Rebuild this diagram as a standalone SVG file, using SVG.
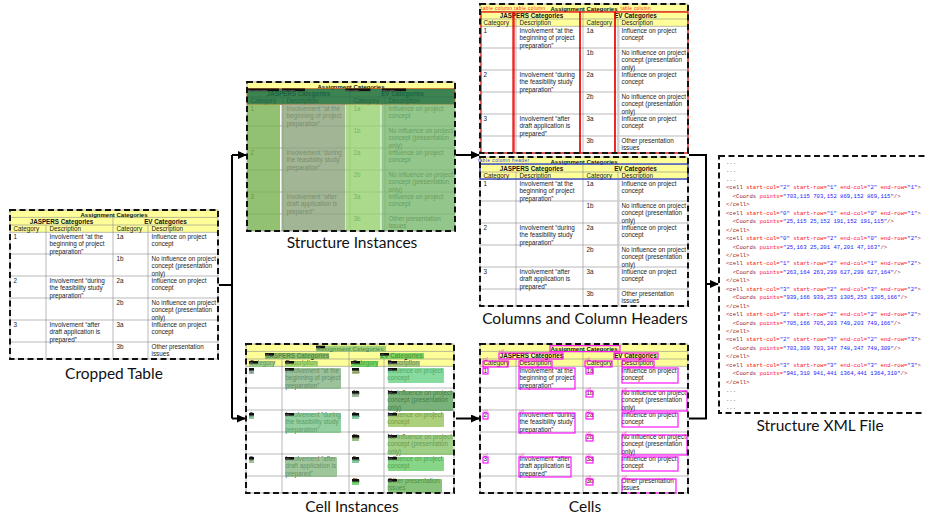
<svg xmlns="http://www.w3.org/2000/svg" xmlns:xlink="http://www.w3.org/1999/xlink" width="925" height="521" viewBox="0 0 925 521">
<style>
.dash{fill:none;stroke:#111;stroke-width:2;stroke-dasharray:6 3.5}
.gl{stroke:#8a8a8a;stroke-width:0.6}
.t{font-family:"Liberation Sans",Arial,sans-serif;font-size:6.3px;fill:#222}
.th{font-family:"Liberation Sans",Arial,sans-serif;font-weight:bold;fill:#111;text-anchor:middle}
.lbl{font-family:Lato,"Open Sans",sans-serif;font-size:15.5px;fill:#111;text-anchor:middle}
.xml{font-family:"Liberation Mono","DejaVu Sans Mono",monospace;font-size:5.6px}
.tg{fill:#a31515}.an{fill:#ff1010}.av{fill:#1a1aff}.pl{fill:#555}
.con{stroke:#000;stroke-width:2;fill:none}
.ci{opacity:0.75}
.cl{fill:#111}
.clt{font-family:"Liberation Sans",Arial,sans-serif;font-size:2.2px;fill:#aaa}
.mb{fill:none;stroke:#ff00ff;stroke-width:1.1}
.mt{font-family:"Liberation Sans",Arial,sans-serif;font-size:3.4px;fill:#ff3fd0}
.rc{fill:none;stroke:#e80000;stroke-width:1.2}
.rt{font-family:"Liberation Sans",Arial,sans-serif;font-size:4.6px;fill:#ff2020}
</style>
<defs>
<marker id="ah" markerUnits="userSpaceOnUse" markerWidth="9" markerHeight="8" refX="8" refY="4" orient="auto"><path d="M0,0 L9,4 L0,8 z" fill="#000"/></marker>
<g id="tbl">
<rect x="0" y="0" width="208" height="149" fill="#fff"/>
<rect x="0" y="0" width="208" height="22.3" fill="#ffff99"/>
<g class="gl">
<line x1="0" y1="7.4" x2="208" y2="7.4"/><line x1="0" y1="15" x2="208" y2="15"/><line x1="0" y1="22.3" x2="208" y2="22.3"/>
<line x1="0" y1="44" x2="208" y2="44"/><line x1="0" y1="66" x2="208" y2="66"/><line x1="0" y1="88" x2="208" y2="88"/><line x1="0" y1="110" x2="208" y2="110"/><line x1="0" y1="132" x2="208" y2="132"/>
<line x1="103" y1="7.4" x2="103" y2="149"/><line x1="36" y1="15" x2="36" y2="149"/><line x1="138" y1="15" x2="138" y2="149"/>
<rect x="0" y="0" width="208" height="149" fill="none"/>
</g>
<text class="th" x="104" y="6.6" font-size="6">Assignment Categories</text>
<text class="th" x="51.5" y="13.5" font-size="6.3">JASPERS Categories</text>
<text class="th" x="155.5" y="13.5" font-size="6.3">EV Categories</text>
<g class="t">
<text x="3.5" y="21">Category</text><text x="39.5" y="21">Description</text><text x="106.5" y="21">Category</text><text x="141.5" y="21">Description</text>
<text x="3.5" y="28.7">1</text>
<text x="39.5" y="28.7">Involvement “at the<tspan x="39.5" dy="7.5">beginning of project</tspan><tspan x="39.5" dy="7.5">preparation”</tspan></text>
<text x="106.5" y="28.7">1a</text>
<text x="141.5" y="28.7">Influence on project<tspan x="141.5" dy="7.5">concept</tspan></text>
<text x="106.5" y="50.7">1b</text>
<text x="141.5" y="50.7">No influence on project<tspan x="141.5" dy="7.5">concept (presentation</tspan><tspan x="141.5" dy="7.5">only)</tspan></text>
<text x="3.5" y="72.7">2</text>
<text x="39.5" y="72.7">Involvement “during<tspan x="39.5" dy="7.5">the feasibility study</tspan><tspan x="39.5" dy="7.5">preparation”</tspan></text>
<text x="106.5" y="72.7">2a</text>
<text x="141.5" y="72.7">Influence on project<tspan x="141.5" dy="7.5">concept</tspan></text>
<text x="106.5" y="94.7">2b</text>
<text x="141.5" y="94.7">No influence on project<tspan x="141.5" dy="7.5">concept (presentation</tspan><tspan x="141.5" dy="7.5">only)</tspan></text>
<text x="3.5" y="116.7">3</text>
<text x="39.5" y="116.7">Involvement “after<tspan x="39.5" dy="7.5">draft application is</tspan><tspan x="39.5" dy="7.5">prepared”</tspan></text>
<text x="106.5" y="116.7">3a</text>
<text x="141.5" y="116.7">Influence on project<tspan x="141.5" dy="7.5">concept</tspan></text>
<text x="106.5" y="138.7">3b</text>
<text x="141.5" y="138.7">Other presentation<tspan x="141.5" dy="7.5">issues</tspan></text>
</g>
</g>
</defs>
<rect width="925" height="521" fill="#fff"/>

<g id="cropped-table" transform="translate(10,210)">
<use href="#tbl"/>
<rect class="dash" x="0" y="0" width="208" height="149"/>
</g>
<text class="lbl" x="114" y="379">Cropped Table</text>

<g id="structure-instances" transform="translate(247,82)">
<use href="#tbl"/>
<rect x="0" y="6.5" width="208" height="15.8" fill="#1e6e46" opacity="0.86" stroke="#d2601e" stroke-width="0.8"/>
<g opacity="0.8">
<rect x="0" y="22.3" width="33" height="126.7" fill="#78b250"/>
<rect x="34.5" y="22.3" width="63.5" height="126.7" fill="#8ca57d"/>
<rect x="98.5" y="22.3" width="35" height="126.7" fill="#96d26e"/>
<rect x="134.5" y="22.3" width="73.5" height="126.7" fill="#78b96e"/>
</g>
<g>
<rect x="0" y="6.5" width="32" height="2.6" class="cl"/><text class="clt" x="0.5" y="8.6">table column header</text>
<rect x="35" y="6.5" width="23" height="2.6" class="cl"/><text class="clt" x="35.5" y="8.6">table column</text>
<rect x="98.5" y="6.5" width="25" height="2.6" class="cl"/><text class="clt" x="99" y="8.6">table column</text>
<rect x="135" y="6.5" width="24" height="2.6" class="cl"/><text class="clt" x="135.5" y="8.6">table column</text>
</g>
<rect class="dash" x="0" y="0" width="208" height="149"/>
</g>
<text class="lbl" x="352" y="248">Structure Instances</text>

<g id="table-columns" transform="translate(480,4)">
<use href="#tbl"/>
<rect x="137.5" y="22.3" width="2" height="126.7" fill="#cfcfcf"/>
<rect class="rc" x="1" y="8" width="32" height="141"/>
<rect class="rc" x="34" y="8" width="66" height="141"/>
<rect class="rc" x="100" y="8" width="35" height="141"/>
<rect class="rc" x="135" y="8" width="73" height="141"/>
<text class="rt" x="1" y="6.3" textLength="31">table column</text>
<text class="rt" x="34" y="6.3" textLength="31">table column</text>
<text class="rt" x="140.5" y="6.3" textLength="30">table column</text>
<rect class="dash" x="0" y="0" width="208" height="149"/>
</g>

<g id="column-headers" transform="translate(480,157)">
<use href="#tbl"/>
<rect x="137.5" y="22.3" width="2" height="126.7" fill="#cfcfcf"/>
<rect x="0" y="7" width="208" height="15" fill="none" stroke="#3344cc" stroke-width="1.3"/>
<text x="-2" y="5.4" font-family="Liberation Sans, Arial, sans-serif" font-size="4.6" fill="#2a3be0" textLength="51">table column header</text>
<rect class="dash" x="0" y="0" width="208" height="149"/>
</g>
<text class="lbl" x="585" y="324">Columns and Column Headers</text>

<g id="cell-instances" transform="translate(246,344)">
<use href="#tbl"/>
<g class="ci">
<rect x="70" y="1.7" width="70" height="6" fill="#7fc06a"/>
<rect x="19" y="9" width="64" height="6" fill="#6fae5a"/>
<rect x="134" y="9" width="44" height="6" fill="#5cc84c"/>
<rect x="3" y="17" width="25" height="6" fill="#7fbf7f"/>
<rect x="39" y="17" width="33" height="6" fill="#8fd060"/>
<rect x="105" y="17" width="27" height="6" fill="#4fc84f"/>
<rect x="142" y="17" width="32" height="6" fill="#8fb86a"/>
<rect x="3" y="24" width="5" height="6" fill="#7a9f9a"/>
<rect x="39" y="24" width="56" height="21" rx="1" fill="#7aae7a"/>
<rect x="106" y="24" width="7" height="6" fill="#8fa860"/>
<rect x="142" y="24" width="56" height="15" rx="1" fill="#5fcf7f"/>
<rect x="106" y="47" width="7" height="6" fill="#7f9f7f"/>
<rect x="142" y="47" width="65" height="20" rx="1" fill="#4f994f"/>
<rect x="3" y="69" width="5" height="6" fill="#60b870"/>
<rect x="39" y="69" width="56" height="20" rx="1" fill="#6fc07f"/>
<rect x="106" y="69" width="7" height="6" fill="#5fb890"/>
<rect x="142" y="69" width="56" height="14" rx="1" fill="#8fc04f"/>
<rect x="106" y="91" width="7" height="6" fill="#7fa860"/>
<rect x="142" y="91" width="65" height="20" rx="1" fill="#7fbf5f"/>
<rect x="3" y="113" width="5" height="6" fill="#7fb070"/>
<rect x="39" y="113" width="52" height="20" rx="1" fill="#7fb47a"/>
<rect x="106" y="113" width="7" height="6" fill="#5fb87f"/>
<rect x="142" y="113" width="56" height="14" rx="1" fill="#5fc860"/>
<rect x="106" y="135" width="7" height="6" fill="#4fc84f"/>
<rect x="142" y="135" width="54" height="14" rx="1" fill="#5fb04f"/>
</g>
<g>
<rect class="cl" x="70" y="1.7" width="9" height="2.6"/><text class="clt" x="70.5" y="3.8">cell</text>
<rect class="cl" x="19" y="9" width="9" height="2.6"/><text class="clt" x="19.5" y="11.1">cell</text>
<rect class="cl" x="134" y="9" width="9" height="2.6"/><text class="clt" x="134.5" y="11.1">cell</text>
<rect class="cl" x="3" y="17" width="9" height="2.6"/><text class="clt" x="3.5" y="19.1">cell</text>
<rect class="cl" x="39" y="17" width="9" height="2.6"/><text class="clt" x="39.5" y="19.1">cell</text>
<rect class="cl" x="105" y="17" width="9" height="2.6"/><text class="clt" x="105.5" y="19.1">cell</text>
<rect class="cl" x="142" y="17" width="9" height="2.6"/><text class="clt" x="142.5" y="19.1">cell</text>
<rect class="cl" x="3" y="24" width="5" height="2.6"/>
<rect class="cl" x="39" y="24" width="9" height="2.6"/><text class="clt" x="39.5" y="26.1">cell</text>
<rect class="cl" x="106" y="24" width="7" height="2.6"/>
<rect class="cl" x="142" y="24" width="9" height="2.6"/><text class="clt" x="142.5" y="26.1">cell</text>
<rect class="cl" x="106" y="47" width="7" height="2.6"/>
<rect class="cl" x="142" y="47" width="9" height="2.6"/><text class="clt" x="142.5" y="49.1">cell</text>
<rect class="cl" x="3" y="69" width="5" height="2.6"/>
<rect class="cl" x="39" y="69" width="9" height="2.6"/><text class="clt" x="39.5" y="71.1">cell</text>
<rect class="cl" x="106" y="69" width="7" height="2.6"/>
<rect class="cl" x="142" y="69" width="9" height="2.6"/><text class="clt" x="142.5" y="71.1">cell</text>
<rect class="cl" x="106" y="91" width="7" height="2.6"/>
<rect class="cl" x="142" y="91" width="9" height="2.6"/><text class="clt" x="142.5" y="93.1">cell</text>
<rect class="cl" x="3" y="113" width="5" height="2.6"/>
<rect class="cl" x="39" y="113" width="9" height="2.6"/><text class="clt" x="39.5" y="115.1">cell</text>
<rect class="cl" x="106" y="113" width="7" height="2.6"/>
<rect class="cl" x="142" y="113" width="9" height="2.6"/><text class="clt" x="142.5" y="115.1">cell</text>
<rect class="cl" x="106" y="135" width="7" height="2.6"/>
<rect class="cl" x="142" y="135" width="9" height="2.6"/><text class="clt" x="142.5" y="137.1">cell</text>
</g>
<rect class="dash" x="0" y="0" width="208" height="149"/>
</g>
<text class="lbl" x="352" y="512">Cell Instances</text>

<g id="cells" transform="translate(480,344)">
<use href="#tbl"/>
<rect x="137.5" y="22.3" width="2" height="126.7" fill="#cfcfcf"/>
<g>
<rect class="mb" x="70" y="1.7" width="70" height="6"/>
<rect class="mb" x="19" y="9" width="64" height="6"/>
<rect class="mb" x="134" y="9" width="44" height="6"/>
<rect class="mb" x="3" y="17" width="25" height="6"/>
<rect class="mb" x="39" y="17" width="33" height="6"/>
<rect class="mb" x="105" y="17" width="27" height="6"/>
<rect class="mb" x="142" y="17" width="32" height="6"/>
<rect class="mb" x="3" y="24" width="5" height="6"/>
<rect class="mb" x="39" y="24" width="56" height="21"/>
<rect class="mb" x="106" y="24" width="7" height="6"/>
<rect class="mb" x="142" y="24" width="56" height="15"/>
<rect class="mb" x="106" y="47" width="7" height="6"/>
<rect class="mb" x="142" y="47" width="65" height="20"/>
<rect class="mb" x="3" y="69" width="5" height="6"/>
<rect class="mb" x="39" y="69" width="56" height="20"/>
<rect class="mb" x="106" y="69" width="7" height="6"/>
<rect class="mb" x="142" y="69" width="56" height="14"/>
<rect class="mb" x="106" y="91" width="7" height="6"/>
<rect class="mb" x="142" y="91" width="65" height="20"/>
<rect class="mb" x="3" y="113" width="5" height="6"/>
<rect class="mb" x="39" y="113" width="52" height="20"/>
<rect class="mb" x="106" y="113" width="7" height="6"/>
<rect class="mb" x="142" y="113" width="56" height="14"/>
<rect class="mb" x="106" y="135" width="7" height="6"/>
<rect class="mb" x="142" y="135" width="54" height="14"/>
</g>
<g class="mt">
<text x="19" y="8.4">cell</text><text x="134" y="8.4">cell</text>
<text x="3" y="16.4">cell</text><text x="39" y="16.4">cell</text><text x="105" y="16.4">cell</text><text x="142" y="16.4">cell</text>
<text x="106" y="46.4">cell</text><text x="142" y="46.4">cell</text>
<text x="3" y="68.4">cell</text><text x="39" y="68.4">cell</text><text x="106" y="68.4">cell</text><text x="142" y="68.4">cell</text>
<text x="106" y="90.4">cell</text><text x="142" y="90.4">cell</text>
<text x="3" y="112.4">cell</text><text x="39" y="112.4">cell</text><text x="106" y="112.4">cell</text><text x="142" y="112.4">cell</text>
<text x="106" y="134.4">cell</text><text x="142" y="134.4">cell</text>
</g>
<rect class="dash" x="0" y="0" width="208" height="149"/>
</g>
<text class="lbl" x="585" y="512">Cells</text>

<g id="structure-xml-file">
<rect class="dash" x="719" y="156" width="215" height="257"/>
<g class="xml">
<text class="pl" x="726" y="164">...</text>
<text class="pl" x="726" y="172.45">...</text>
<text class="pl" x="726" y="180.9">...</text>
<text x="726" y="189.35"><tspan class="tg">&lt;cell</tspan> <tspan class="an">start-col=</tspan><tspan class="av">"2"</tspan> <tspan class="an">start-row=</tspan><tspan class="av">"1"</tspan> <tspan class="an">end-col=</tspan><tspan class="av">"2"</tspan> <tspan class="an">end-row=</tspan><tspan class="av">"1"</tspan><tspan class="tg">&gt;</tspan></text>
<text x="732.7" y="197.8"><tspan class="tg">&lt;Coords</tspan> <tspan class="an">points=</tspan><tspan class="av">"703,115 703,152 869,152 869,115"</tspan><tspan class="tg">/&gt;</tspan></text>
<text class="tg" x="726" y="206.25">&lt;/cell&gt;</text>
<text x="726" y="214.7"><tspan class="tg">&lt;cell</tspan> <tspan class="an">start-col=</tspan><tspan class="av">"0"</tspan> <tspan class="an">start-row=</tspan><tspan class="av">"1"</tspan> <tspan class="an">end-col=</tspan><tspan class="av">"0"</tspan> <tspan class="an">end-row=</tspan><tspan class="av">"1"</tspan><tspan class="tg">&gt;</tspan></text>
<text x="732.7" y="223.15"><tspan class="tg">&lt;Coords</tspan> <tspan class="an">points=</tspan><tspan class="av">"25,115 25,152 191,152 191,115"</tspan><tspan class="tg">/&gt;</tspan></text>
<text class="tg" x="726" y="231.6">&lt;/cell&gt;</text>
<text x="726" y="240.05"><tspan class="tg">&lt;cell</tspan> <tspan class="an">start-col=</tspan><tspan class="av">"0"</tspan> <tspan class="an">start-row=</tspan><tspan class="av">"2"</tspan> <tspan class="an">end-col=</tspan><tspan class="av">"0"</tspan> <tspan class="an">end-row=</tspan><tspan class="av">"2"</tspan><tspan class="tg">&gt;</tspan></text>
<text x="732.7" y="248.5"><tspan class="tg">&lt;Coords</tspan> <tspan class="an">points=</tspan><tspan class="av">"25,163 25,201 47,201 47,163"</tspan><tspan class="tg">/&gt;</tspan></text>
<text class="tg" x="726" y="256.95">&lt;/cell&gt;</text>
<text x="726" y="265.4"><tspan class="tg">&lt;cell</tspan> <tspan class="an">start-col=</tspan><tspan class="av">"1"</tspan> <tspan class="an">start-row=</tspan><tspan class="av">"2"</tspan> <tspan class="an">end-col=</tspan><tspan class="av">"1"</tspan> <tspan class="an">end-row=</tspan><tspan class="av">"2"</tspan><tspan class="tg">&gt;</tspan></text>
<text x="732.7" y="273.85"><tspan class="tg">&lt;Coords</tspan> <tspan class="an">points=</tspan><tspan class="av">"263,164 263,299 627,299 627,164"</tspan><tspan class="tg">/&gt;</tspan></text>
<text class="tg" x="726" y="282.3">&lt;/cell&gt;</text>
<text x="726" y="290.75"><tspan class="tg">&lt;cell</tspan> <tspan class="an">start-col=</tspan><tspan class="av">"3"</tspan> <tspan class="an">start-row=</tspan><tspan class="av">"2"</tspan> <tspan class="an">end-col=</tspan><tspan class="av">"3"</tspan> <tspan class="an">end-row=</tspan><tspan class="av">"2"</tspan><tspan class="tg">&gt;</tspan></text>
<text x="732.7" y="299.2"><tspan class="tg">&lt;Coords</tspan> <tspan class="an">points=</tspan><tspan class="av">"939,166 939,253 1305,253 1305,166"</tspan><tspan class="tg">/&gt;</tspan></text>
<text class="tg" x="726" y="307.65">&lt;/cell&gt;</text>
<text x="726" y="316.1"><tspan class="tg">&lt;cell</tspan> <tspan class="an">start-col=</tspan><tspan class="av">"2"</tspan> <tspan class="an">start-row=</tspan><tspan class="av">"2"</tspan> <tspan class="an">end-col=</tspan><tspan class="av">"2"</tspan> <tspan class="an">end-row=</tspan><tspan class="av">"2"</tspan><tspan class="tg">&gt;</tspan></text>
<text x="732.7" y="324.55"><tspan class="tg">&lt;Coords</tspan> <tspan class="an">points=</tspan><tspan class="av">"705,166 705,203 749,203 749,166"</tspan><tspan class="tg">/&gt;</tspan></text>
<text class="tg" x="726" y="333">&lt;/cell&gt;</text>
<text x="726" y="341.45"><tspan class="tg">&lt;cell</tspan> <tspan class="an">start-col=</tspan><tspan class="av">"2"</tspan> <tspan class="an">start-row=</tspan><tspan class="av">"3"</tspan> <tspan class="an">end-col=</tspan><tspan class="av">"2"</tspan> <tspan class="an">end-row=</tspan><tspan class="av">"3"</tspan><tspan class="tg">&gt;</tspan></text>
<text x="732.7" y="349.9"><tspan class="tg">&lt;Coords</tspan> <tspan class="an">points=</tspan><tspan class="av">"703,309 703,347 748,347 748,309"</tspan><tspan class="tg">/&gt;</tspan></text>
<text class="tg" x="726" y="358.35">&lt;/cell&gt;</text>
<text x="726" y="366.8"><tspan class="tg">&lt;cell</tspan> <tspan class="an">start-col=</tspan><tspan class="av">"3"</tspan> <tspan class="an">start-row=</tspan><tspan class="av">"3"</tspan> <tspan class="an">end-col=</tspan><tspan class="av">"3"</tspan> <tspan class="an">end-row=</tspan><tspan class="av">"3"</tspan><tspan class="tg">&gt;</tspan></text>
<text x="732.7" y="375.25"><tspan class="tg">&lt;Coords</tspan> <tspan class="an">points=</tspan><tspan class="av">"941,310 941,441 1364,441 1364,310"</tspan><tspan class="tg">/&gt;</tspan></text>
<text class="tg" x="726" y="383.7">&lt;/cell&gt;</text>
<text class="pl" x="726" y="392.15">...</text>
<text class="pl" x="726" y="400.6">...</text>
<text class="pl" x="726" y="409.05">...</text>
</g>
</g>
<text class="lbl" x="820" y="431">Structure XML File</text>

<g id="connectors" class="con">
<path d="M219,285 H232 M232,155 V418.5"/>
<path d="M232,155 H246" marker-end="url(#ah)"/>
<path d="M232,418.5 H245" marker-end="url(#ah)"/>
<path d="M456,155 H479" marker-end="url(#ah)"/>
<path d="M456,418.5 H479" marker-end="url(#ah)"/>
<path d="M689,155 H706 V418.5 H689"/>
<path d="M706,284 H718" marker-end="url(#ah)"/>
</g>
</svg>
